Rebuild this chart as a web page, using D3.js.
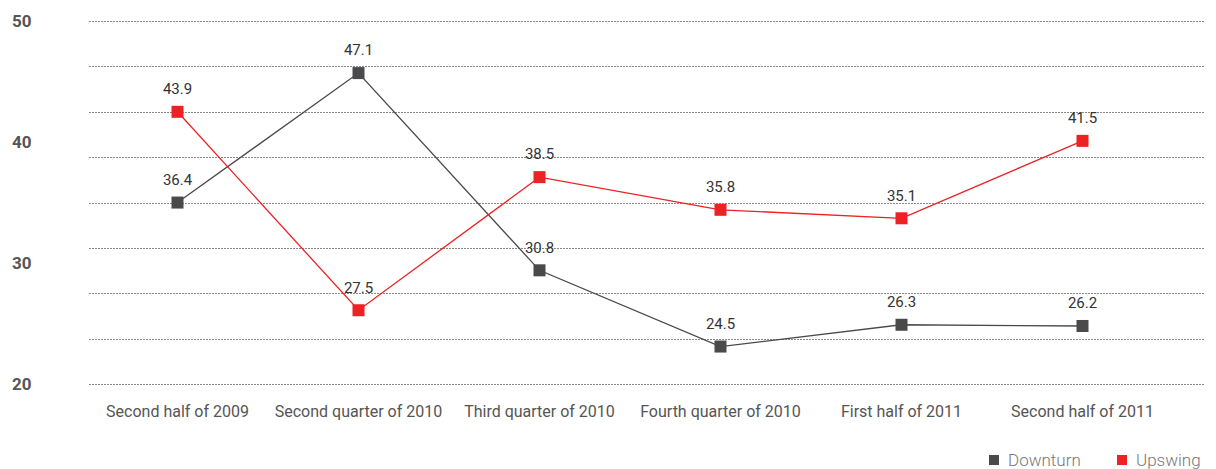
<!DOCTYPE html>
<html>
<head>
<meta charset="utf-8">
<script src="https://cdn.jsdelivr.net/npm/d3@7"></script>
<style>
  body { margin: 0; background: #fff; }
  svg { display: block; font-family: "Liberation Sans Narrow", "Roboto", sans-serif; }
</style>
</head>
<body>
<div id="chart"></div>
<script>
// --- données ---
const periodes = ["Second half of 2009", "Second quarter of 2010", "Third quarter of 2010",
                  "Fourth quarter of 2010", "First half of 2011", "Second half of 2011"];
const downturn = [36.4, 47.1, 30.8, 24.5, 26.3, 26.2];
const upswing  = [43.9, 27.5, 38.5, 35.8, 35.1, 41.5];
const yTicks = [20, 30, 40, 50];
const series = [
  { name: "Downturn", values: downturn, color: "#4a4a4c" },
  { name: "Upswing",  values: upswing,  color: "#ee2124" }
];

const W = 1216, H = 469;

const svg = d3.select("#chart").append("svg")
  .attr("width", W).attr("height", H);

// échelles
const x = d3.scaleBand().domain(periodes).range([87, 1173]);
const xc = d => x(d) + x.bandwidth() / 2;
const yAxis = d3.scaleLinear().domain([20, 50]).range([384, 21]);
const y = d3.scaleLinear().domain([20, 50]).range([401, 38]);

// lignes de grille (pointillés, tous les 3.75)
const gridVals = d3.range(0, 9).map(i => 20 + i * 3.75);
svg.append("g").selectAll("line")
  .data(gridVals).enter().append("line")
  .attr("x1", 89).attr("x2", 1205)
  .attr("y1", d => Math.round(yAxis(d)) + 0.5)
  .attr("y2", d => Math.round(yAxis(d)) + 0.5)
  .attr("stroke", "#888")
  .attr("stroke-width", 1)
  .attr("stroke-dasharray", "2,1");

// libellés axe Y
svg.append("g").selectAll("text")
  .data(yTicks).enter().append("text")
  .attr("x", 12)
  .attr("y", d => yAxis(d))
  .attr("dy", "0.35em")
  .style("font-size", "17px")
  .style("font-weight", "bold")
  .style("fill", "#555")
  .text(d => d);

// libellés axe X
svg.append("g").selectAll("text")
  .data(periodes).enter().append("text")
  .attr("x", d => xc(d))
  .attr("y", 411)
  .attr("dy", "0.35em")
  .attr("text-anchor", "middle")
  .style("font-size", "16px")
  .style("fill", "#555")
  .text(d => d);

// séries
const line = d3.line().x((d, i) => xc(periodes[i])).y(d => y(d));
series.forEach(s => {
  const g = svg.append("g");
  g.append("path")
    .datum(s.values)
    .attr("d", line)
    .attr("fill", "none")
    .attr("stroke", s.color)
    .attr("stroke-width", 1.3);
  g.selectAll("rect")
    .data(s.values).enter().append("rect")
    .attr("x", (d, i) => xc(periodes[i]) - 6)
    .attr("y", d => y(d) - 6)
    .attr("width", 12).attr("height", 12)
    .attr("fill", s.color);
  g.selectAll("text")
    .data(s.values).enter().append("text")
    .attr("x", (d, i) => xc(periodes[i]))
    .attr("y", d => y(d) - 23)
    .attr("dy", "0.35em")
    .attr("text-anchor", "middle")
    .style("font-size", "15px")
    .style("fill", "#333")
    .text(d => d.toFixed(1));
});

// légende
const leg = svg.append("g").selectAll("g")
  .data(series).enter().append("g")
  .attr("transform", (d, i) => `translate(${989 + i * 128},460)`);
leg.append("rect")
  .attr("x", 0).attr("y", -5).attr("width", 10).attr("height", 10)
  .attr("fill", d => d.color);
leg.append("text")
  .attr("x", 19).attr("y", 0).attr("dy", "0.35em")
  .style("font-size", "17px")
  .style("fill", "#777")
  .style("font-family", "Roboto, sans-serif")
  .style("font-weight", 300)
  .text(d => d.name);
</script>
</body>
</html>
